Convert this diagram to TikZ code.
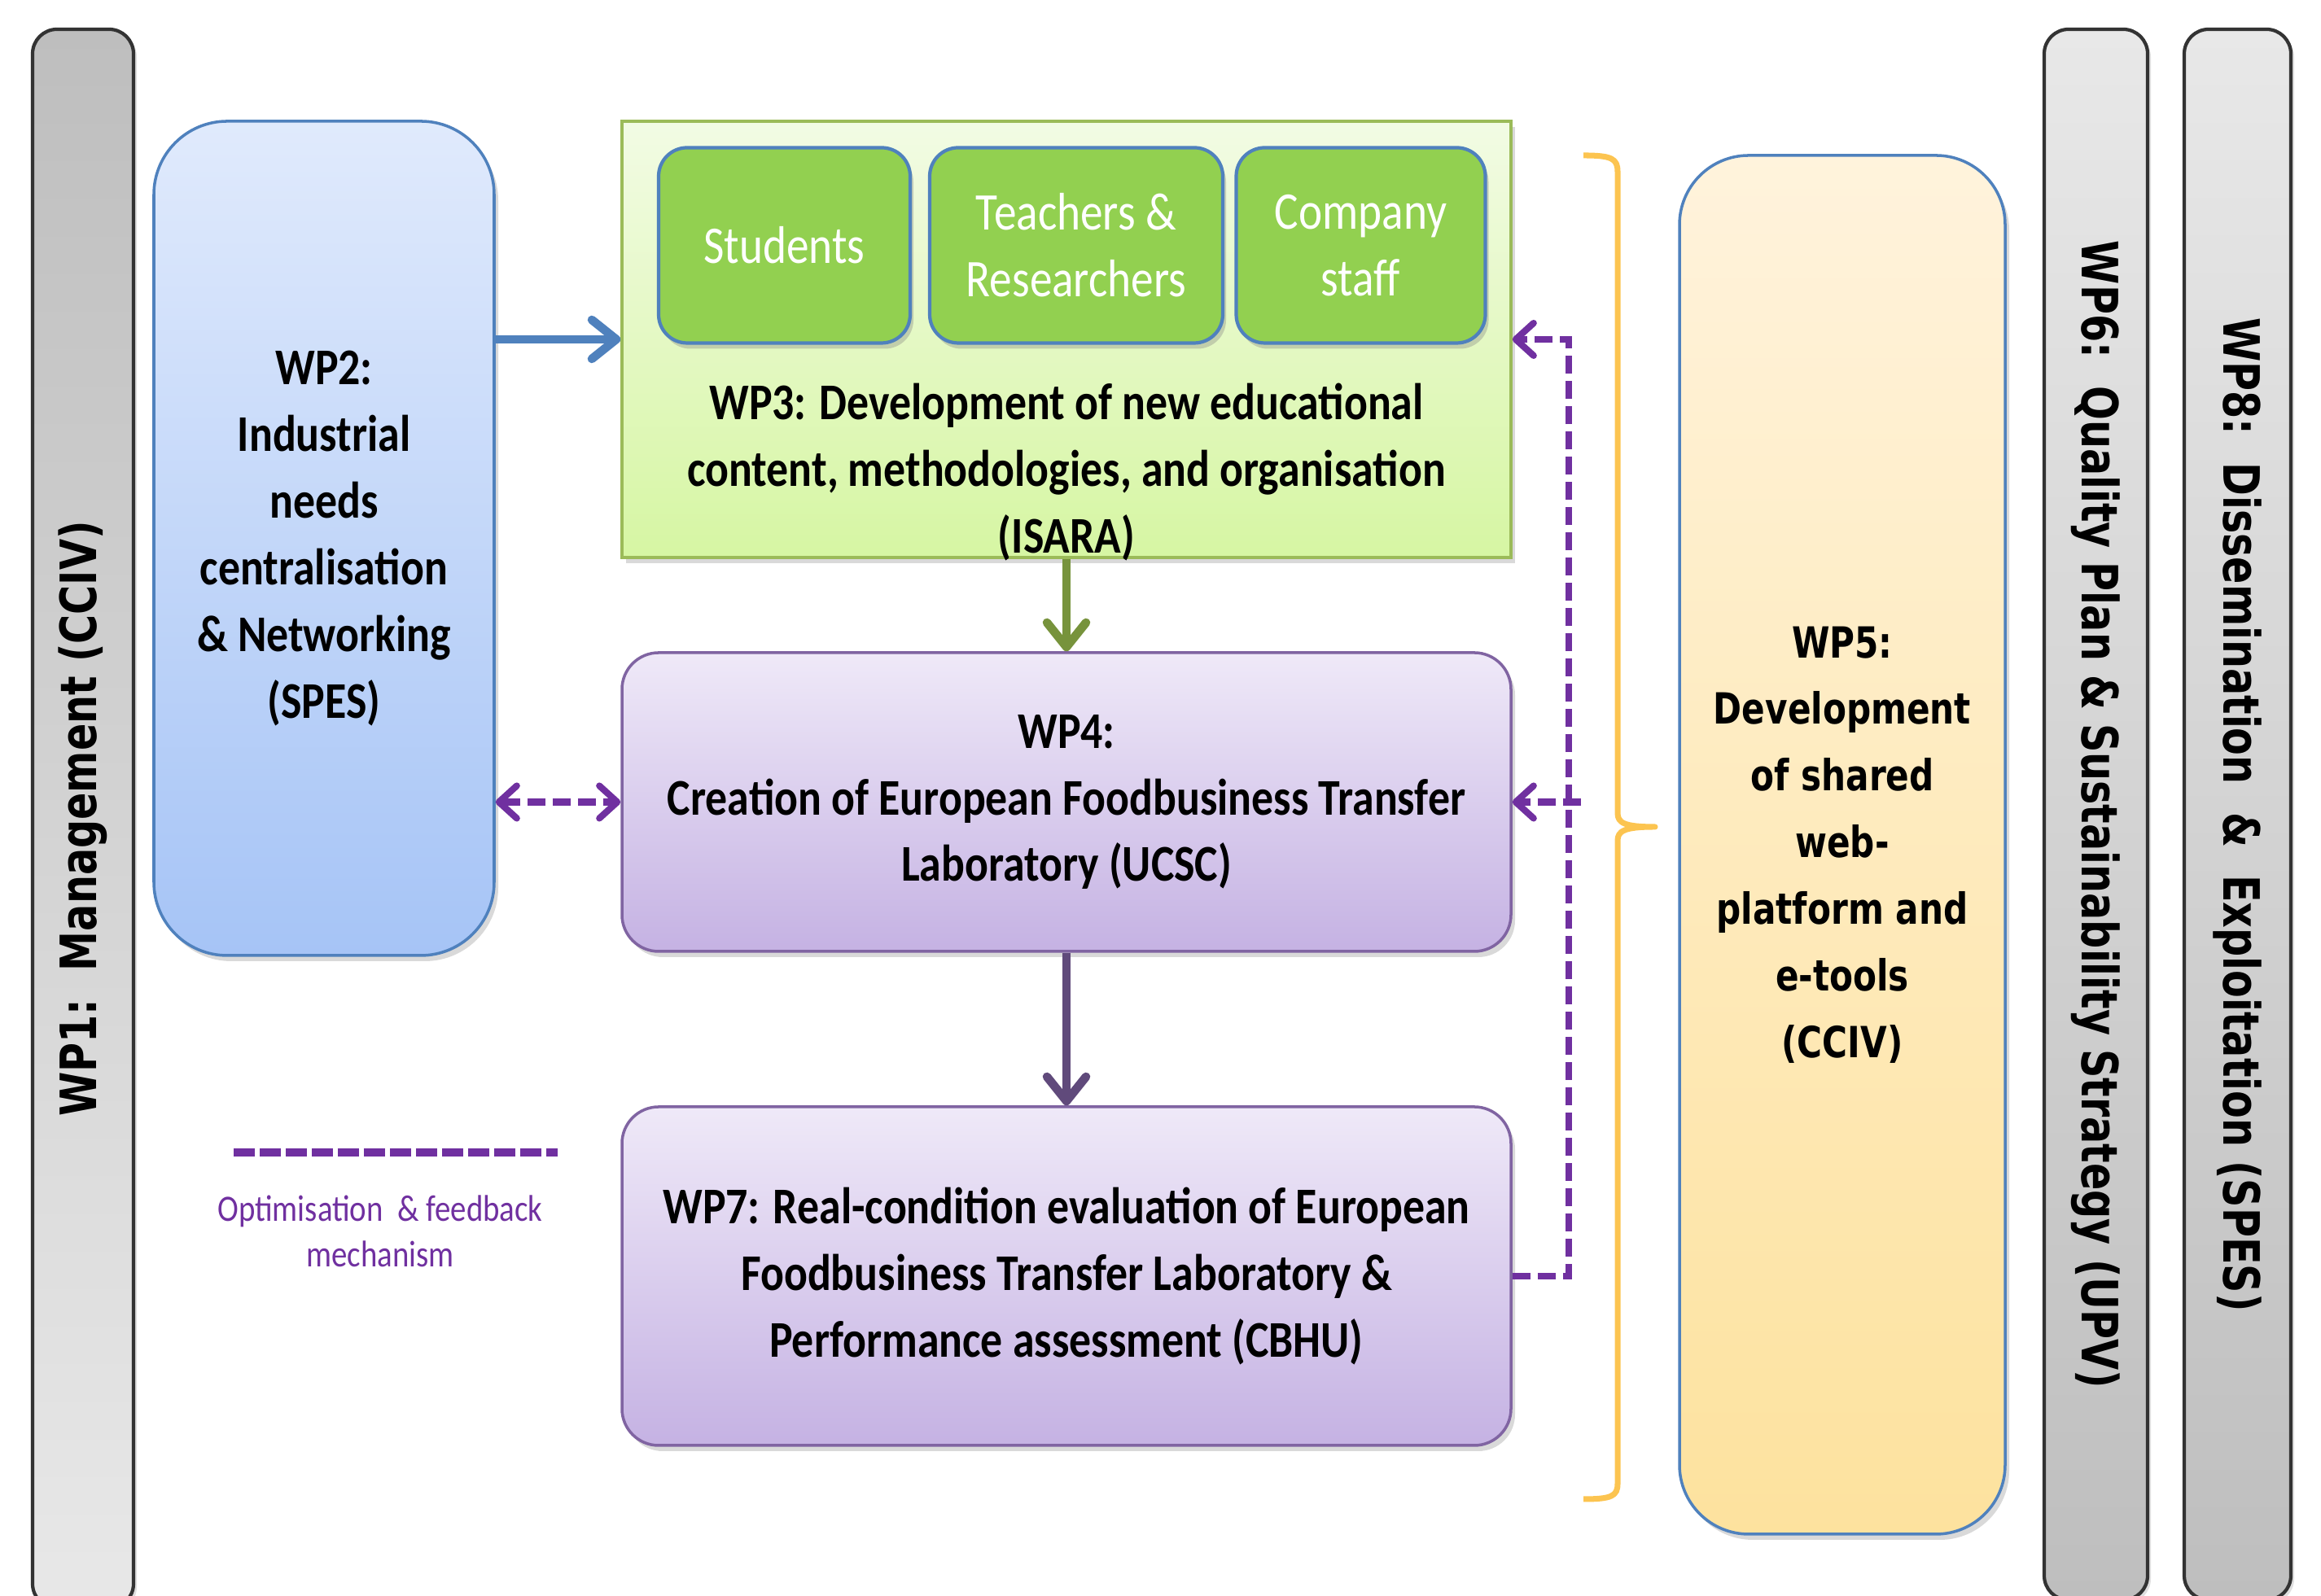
\documentclass[tikz,border=0pt]{standalone}
\usepackage{fontspec}
\setmainfont{Carlito}[FakeStretch=0.85]
\newfontfamily\wideface{DejaVu Sans}[FakeStretch=0.8]
\usetikzlibrary{arrows.meta, positioning, shadows}

\begin{document}
\begin{tikzpicture}[
    >={Straight Barb[length=0.3cm,width=0.48cm,round]},   % Open chevron heads
    node distance=2.2cm,     % Default spacing between nodes
    on grid,
    wpbox/.style={
        draw,
        line width=1pt,
        align=center,
        font=\fontsize{18}{23.3}\selectfont\bfseries,
        drop shadow={shadow xshift=0.05cm, shadow yshift=-0.07cm, opacity=0.3}
    },
    groupbox/.style={
        draw=borderBlue,
        line width=1.2pt,
        rounded corners=0.35cm,
        fill=colorGroup,
        text=white,
        align=center,
        minimum height=2.4cm,
        font=\fontsize{18.5}{23.3}\selectfont,
        drop shadow={shadow xshift=0.04cm, shadow yshift=-0.07cm, opacity=0.35}
    },
    sidebar/.style={
        draw=black!80,
        line width=1.2pt,
        rounded corners=0.3cm,
        font=\wideface\fontsize{17.5}{20}\selectfont\bfseries,
        drop shadow={shadow xshift=0.04cm, shadow yshift=-0.04cm, opacity=0.25}
    },
    feedback/.style={
        draw=colorFeedback,
        line width=2.3pt,
        dash pattern=on 0.22cm off 0.09cm,
        >={Straight Barb[length=0.22cm,width=0.4cm,round]}
    }
]

%--- Define colors for blocks ---
\definecolor{borderBlue}{RGB}{79,129,189}        % Blue outline
\definecolor{colorNeedsTop}{RGB}{224,234,252}    % Light blue
\definecolor{colorNeedsBot}{RGB}{166,196,246}
\definecolor{colorContentTop}{RGB}{242,251,228}  % Light green
\definecolor{colorContentBot}{RGB}{214,246,163}
\definecolor{borderGreen}{RGB}{155,187,89}
\definecolor{colorGroup}{RGB}{146,208,80}        % Green
\definecolor{colorLabTop}{RGB}{239,233,248}      % Lavender
\definecolor{colorLabBot}{RGB}{197,178,227}
\definecolor{borderPurple}{RGB}{128,100,162}
\definecolor{colorWebTop}{RGB}{255,243,220}      % Light orange
\definecolor{colorWebBot}{RGB}{253,226,158}
\definecolor{colorBrace}{RGB}{252,196,80}
\definecolor{colorFeedback}{RGB}{112,48,160}     % Purple
\definecolor{arrowGreen}{RGB}{119,147,60}
\definecolor{arrowPurple}{RGB}{96,74,123}
\definecolor{barDark}{RGB}{190,190,190}          % Gray bars
\definecolor{barLight}{RGB}{232,232,232}

\useasboundingbox (0,0) rectangle (28.51,19.61);

%------------------------------------
% SIDE BARS: WP1, WP6, WP8
%------------------------------------

\node[sidebar, rotate=90, minimum width=19.4cm, minimum height=1.24cm,
      top color=barDark, bottom color=barLight] (wp1) at (1.02,9.55)
{WP1:\ \ Management (CCIV)};

\node[sidebar, rotate=-90, minimum width=19.3cm, minimum height=1.27cm,
      top color=barLight, bottom color=barDark] (wp6) at (25.745,9.6)
{WP6:\ \ Quality Plan \& Sustainability Strategy (UPV)};

\node[sidebar, rotate=-90, minimum width=19.3cm, minimum height=1.31cm,
      top color=barLight, bottom color=barDark] (wp8) at (27.485,9.6)
{WP8:\ \ Dissemination\ \ \&\ \ Exploitation (SPES)};

%------------------------------------
% LEFT COLUMN: INDUSTRIAL NEEDS
%------------------------------------

% WP2
\node[wpbox, draw=borderBlue, rounded corners=0.9cm,
      top color=colorNeedsTop, bottom color=colorNeedsBot,
      minimum width=4.18cm, minimum height=10.25cm] (wp2) at (3.98,12.995)
{WP2:\\Industrial\\needs\\centralisation\\\& Networking\\(SPES)};

%------------------------------------
% CENTER COLUMN: WP3, WP4, WP7
%------------------------------------

% WP3 (holds the three target groups)
\node[wpbox, draw=borderGreen,
      top color=colorContentTop, bottom color=colorContentBot,
      minimum width=10.92cm, minimum height=5.36cm] (wp3) at (13.10,15.44) {};

\node[font=\fontsize{18}{23.3}\selectfont\bfseries, align=center,
      below=1.63cm of wp3] (wp3title)
{WP3: Development of new educational\\content, methodologies, and organisation\\(ISARA)};

% Target groups
\node[groupbox, minimum width=3.09cm] (students) at (9.635,16.595)
{Students};
\node[groupbox, minimum width=3.60cm, right=3.585cm of students] (teachers)
{Teachers \&\\Researchers};
\node[groupbox, minimum width=3.06cm, right=3.495cm of teachers] (company)
{Company\\staff};

% WP4
\node[wpbox, draw=borderPurple, rounded corners=0.45cm,
      top color=colorLabTop, bottom color=colorLabBot,
      minimum width=10.92cm, minimum height=3.67cm,
      below=5.685cm of wp3] (wp4)
{WP4:\\Creation of European Foodbusiness Transfer\\Laboratory (UCSC)};

% WP7
\node[wpbox, draw=borderPurple, rounded corners=0.45cm,
      top color=colorLabTop, bottom color=colorLabBot,
      minimum width=10.92cm, minimum height=4.16cm,
      below=5.825cm of wp4] (wp7)
{WP7: Real-condition evaluation of European\\Foodbusiness Transfer Laboratory \&\\Performance assessment (CBHU)};

%------------------------------------
% RIGHT COLUMN: WEB PLATFORM
%------------------------------------

% WP5
\node[wpbox, draw=borderBlue, rounded corners=0.85cm,
      top color=colorWebTop, bottom color=colorWebBot,
      minimum width=4.0cm, minimum height=16.94cm,
      font=\wideface\fontsize{15}{23.3}\selectfont\bfseries] (wp5) at (22.63,9.23)
{WP5:\\Development\\of shared\\web-\\platform and\\e-tools\\(CCIV)};

% Brace grouping WP3, WP4 and WP7
\draw[colorBrace, line width=2pt, line join=round]
    (19.45,17.70) .. controls (19.80,17.70) and (19.87,17.66) .. (19.87,17.50)
    -- (19.87,9.62) .. controls (19.87,9.50) and (19.95,9.45) .. (20.33,9.45)
    .. controls (19.95,9.45) and (19.87,9.40) .. (19.87,9.28)
    -- (19.87,1.38) .. controls (19.87,1.23) and (19.80,1.19) .. (19.45,1.19);

%------------------
% LEGEND
%------------------

\coordinate (legend_start) at (2.87,5.45);
\coordinate (legend_end) at (6.85,5.45);
\draw[feedback, line width=2.8pt, dash pattern=on 0.26cm off 0.06cm]
    (legend_start) -- (legend_end);

\node[text=colorFeedback, align=center,
      font=\fontsize{13}{16}\selectfont] (legend) at (4.67,4.48)
{Optimisation\ \ \& feedback\\mechanism};

%------------------
% EDGES (ARROWS)
%------------------

% WP2 to WP3
\draw[->, borderBlue, line width=3pt] (wp2.east |- wp3.west) -- (wp3.west);

% WP3 to WP4
\draw[->, arrowGreen, line width=3pt] (wp3.south) -- (wp4.north);

% WP4 to WP7
\draw[->, arrowPurple, line width=3pt] (wp4.south) -- (wp7.north);

% WP2 <-> WP4
\draw[<->, feedback] (wp2.east |- wp4.west) -- (wp4.west);

% Feedback from WP7 back to WP3 and WP4
\coordinate (fb_line) at (19.27,0);
\coordinate (fb_tick) at (19.42,0);

\draw[->, feedback]
    (wp7.east) -- (wp7.east -| fb_line)
    |- (wp3.east);

\draw[->, feedback] (wp4.east -| fb_tick) -- (wp4.east);

\end{tikzpicture}
\end{document}
